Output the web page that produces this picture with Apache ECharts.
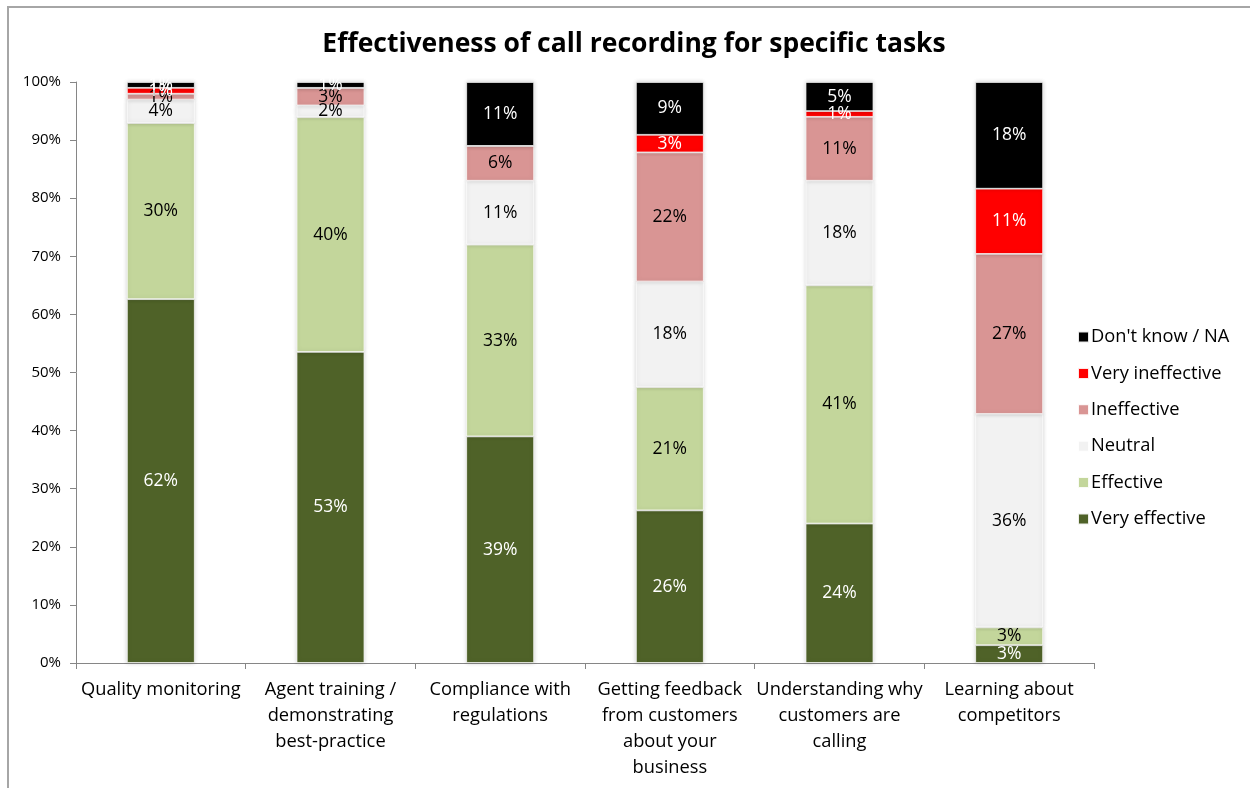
<!DOCTYPE html>
<html><head><meta charset="utf-8">
<script src="https://cdn.jsdelivr.net/npm/echarts@6/dist/echarts.min.js"></script>
<style>html,body{margin:0;padding:0;background:#fff}#c{width:1250px;height:788px}</style>
</head><body><div id="c"></div>
<script>
const categories = ['Quality monitoring','Agent training /\ndemonstrating\nbest-practice','Compliance with\nregulations','Getting feedback\nfrom customers\nabout your\nbusiness','Understanding why\ncustomers are\ncalling','Learning about\ncompetitors'];
const veryEffective   = [62, 53, 39, 26, 24, 3];
const effective       = [30, 40, 33, 21, 41, 3];
const neutral         = [4, 2, 11, 18, 18, 36];
const ineffective     = [1, 3, 6, 22, 11, 27];
const veryIneffective = [1, 0, 0, 3, 1, 11];
const dontKnow        = [1, 1, 11, 9, 5, 18];
const yTicks = [0,10,20,30,40,50,60,70,80,90,100];

const seriesDefs = [
  {name:'Very effective', data:veryEffective, color:'#4F6228', label:'#ffffff'},
  {name:'Effective', data:effective, color:'#C3D69B', label:'#000000'},
  {name:'Neutral', data:neutral, color:'#F2F2F2', label:'#000000'},
  {name:'Ineffective', data:ineffective, color:'#D99594', label:'#000000'},
  {name:'Very ineffective', data:veryIneffective, color:'#FF0000', label:'#ffffff'},
  {name:"Don't know / NA", data:dontKnow, color:'#000000', label:'#ffffff'}
];
const totals = categories.map((_, i) => seriesDefs.reduce((s, d) => s + d.data[i], 0));
const FONT = '"Open Sans", Lato, sans-serif';

const chart = echarts.init(document.getElementById('c'), null, {renderer:'canvas'});
chart.setOption({
  animation:false,
  backgroundColor:'#fff',
  title:{text:'Effectiveness of call recording for specific tasks', left:629, top:26, textAlign:'center',
    textStyle:{fontFamily:FONT, fontWeight:'bold', fontSize:26.5, color:'#000'}},
  graphic:[{type:'polyline', shape:{points:[[8,800],[8,7],[1260,7]]}, style:{stroke:'#A6A6A6', lineWidth:2, fill:null}}],
  grid:{left:76, right:156, top:82, bottom:125, containLabel:false},
  legend:{orient:'vertical', left:1072, top:322, itemGap:16.4, itemWidth:11, itemHeight:11, icon:'rect',
    data:seriesDefs.map(d=>d.name).reverse(),
    textStyle:{fontFamily:FONT, fontSize:18.3, lineHeight:20, color:'#000', padding:[0,0,0,-3]}},
  xAxis:{type:'category', data:categories,
    axisLine:{lineStyle:{color:'#868686'}},
    axisTick:{show:true, alignWithLabel:false, length:6, lineStyle:{color:'#868686'}},
    axisLabel:{fontFamily:FONT, fontSize:18.3, color:'#000', lineHeight:26, margin:14, interval:0}},
  yAxis:{type:'value', min:0, max:100, interval:10,
    splitLine:{show:false},
    axisLine:{show:true, lineStyle:{color:'#868686'}},
    axisTick:{show:true, length:6, lineStyle:{color:'#868686'}},
    axisLabel:{fontFamily:FONT, fontSize:15, color:'#000', margin:15,
      formatter:v => yTicks.includes(v) ? v + '%' : ''}},
  series: seriesDefs.map(d => ({
    name:d.name, type:'bar', stack:'all', barWidth:'40%',
    itemStyle:{color:d.color, borderColor:'rgba(255,255,255,0.9)', borderWidth:0.8,
      shadowColor:'rgba(0,0,0,0.18)', shadowBlur:4},
    label:{show:true, position:'inside', fontFamily:FONT, fontSize:17.5, color:d.label,
      formatter:p => d.data[p.dataIndex] > 0 ? d.data[p.dataIndex] + '%' : ''},
    data:d.data.map((v,i) => v / totals[i] * 100)
  }))
});
</script></body></html>
